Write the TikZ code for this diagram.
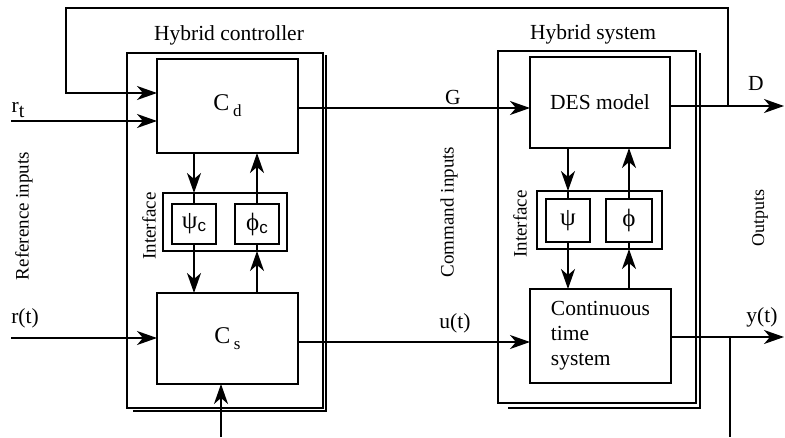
\documentclass[tikz,border=0pt]{standalone}
\usepackage{fontspec}
\setmainfont{Liberation Serif}
\newfontfamily\hcsansfont{Liberation Sans}
\usetikzlibrary{arrows.meta,calc}
\tikzset{
  hc arrow/.style={-{Stealth[length=20pt,width=14pt,inset=6pt]},line width=1.5pt,black},
  hc line/.style={line width=1.5pt,black},
  hc block/.style={draw=black,line width=1.6pt,inner sep=0pt,outer sep=0pt,
    anchor=north west},
  hc frame/.style={hc block},
  hc label/.style={inner sep=0pt,font=\fontsize{21.5}{25}\selectfont},
  hc side label/.style={inner sep=0pt,rotate=90,font=\fontsize{19}{22}\selectfont}
}
\newcommand{\hclow}[2][5pt]{\raisebox{-#1}{\fontsize{17}{17}\selectfont #2}}
\newcommand{\hcgreek}[1]{{\fontsize{25}{25}\selectfont #1}\hclow[3pt]{\hcsansfont c}}
\begin{document}
\begin{tikzpicture}[x=1pt,y=-1pt,font=\fontsize{21.5}{25}\selectfont]
  \useasboundingbox (0,0) rectangle (785,437);

  % Hybrid controller.
  \node[hc frame,minimum width=196pt,minimum height=355pt] (ctrl) at (127,53) {};
  \draw[hc line] ($(ctrl.south west)+(6,3)$) -| ($(ctrl.north east)+(3,2)$);
  \node[hc label] (ctrl title) at (229,35) {Hybrid controller};
  \node[hc block,minimum width=141pt,minimum height=94pt] (cd) at (157,59)
    {{\fontsize{24}{24}\selectfont C}\,\hclow[6pt]{d}};
  \node[hc block,minimum width=141pt,minimum height=91pt] (cs) at (157,293)
    {{\fontsize{24}{24}\selectfont C}\,\hclow[6pt]{s}};
  \node[hc block,minimum width=124pt,minimum height=58pt] (ifc) at (163,193) {};
  \node[hc block,minimum width=44pt,minimum height=40pt] (psic) at (172,204)
    {\hcgreek{ψ}};
  \node[hc block,minimum width=44pt,minimum height=40pt] (phic) at (235,204)
    {\hcgreek{ϕ}};
  \node[hc side label] (ifc label) at (149,226) {Interface};

  % Hybrid system.
  \node[hc frame,minimum width=198pt,minimum height=352pt] (sys) at (498,51) {};
  \draw[hc line] ($(sys.south west)+(10,5)$) -| ($(sys.north east)+(4,2)$);
  \node[hc label] (sys title) at (593,34) {Hybrid system};
  \node[hc block,minimum width=140pt,minimum height=91pt] (des) at (530,57)
    {DES model};
  \node[hc block,minimum width=141pt,minimum height=94pt,align=left] (cts)
    at (530,289) {Continuous\\time\\system};
  \node[hc block,minimum width=44pt,minimum height=43pt] (psi) at (546,199)
    {\fontsize{25}{25}\selectfont ψ};
  \node[hc block,minimum width=46pt,minimum height=43pt] (phi) at (606,199)
    {\fontsize{25}{25}\selectfont ϕ};
  \node[hc block,minimum width=125pt,minimum height=58pt] (ifs) at (537,191) {};
  \node[hc side label] (ifs label) at (520,224) {Interface};

  % Side labels.
  \node[hc side label] (ref label) at (24,216) {Reference inputs};
  \node[hc side label] (cmd label) at (449,212) {Command inputs};
  \node[hc side label,font=\fontsize{18}{22}\selectfont] (out label) at (760,218)
    {Outputs};

  % Signal labels.
  \node[hc label] (rt label) at (18,110) {r\hclow[5pt]{\fontsize{20}{20}\selectfont t}};
  \node[hc label] (r label) at (25,318) {r(t)};
  \node[hc label] (g label) at (453,97) {G};
  \node[hc label] (u label) at (455,323) {u(t)};
  \node[hc label] (d label) at (756,83) {D};
  \node[hc label] (y label) at (762,317) {y(t)};

  % Free ends and taps.
  \coordinate (rt src) at (11,121);
  \coordinate (r src) at (11,338);
  \coordinate (fb in) at (66,93);
  \coordinate (fb top) at (66,8);
  \coordinate (d tap) at (728,106);
  \coordinate (d out) at (784,106);
  \coordinate (y out) at (784,337);
  \coordinate (y tap) at (730,337);
  \coordinate (y bot) at (730,437);
  \coordinate (cs src) at (221,437);
  \coordinate (g line) at (0,108);
  \coordinate (u line) at (0,342);

  % Inputs and outputs.
  \draw[hc arrow] (rt src) -- (rt src -| cd.west);
  \draw[hc arrow] (r src) -- (r src -| cs.west);
  \draw[hc arrow] (d tap) |- (fb top) |- (fb in -| cd.west);
  \draw[hc arrow] (cd.east |- g line) -- (des.west |- g line);
  \draw[hc arrow] (cs.east |- u line) -- (cts.west |- u line);
  \draw[hc arrow] (des.east |- d tap) -- (d out);
  \draw[hc arrow] (cts.east |- y out) -- (y out);
  \draw[hc line] (y tap) -- (y bot);
  \draw[hc arrow] (cs src) -- (cs src |- cs.south);

  % Controller interface.
  \draw[hc arrow] (cd.south -| psic) -- (ifc.north -| psic);
  \draw[hc line] (ifc.north -| psic) -- (psic.north);
  \draw[hc arrow] (phic.north) -- (cd.south -| phic);
  \draw[hc arrow] (psic.south) -- (cs.north -| psic);
  \draw[hc arrow] (cs.north -| phic) -- (ifc.south -| phic);
  \draw[hc line] (ifc.south -| phic) -- (phic.south);

  % System interface.
  \draw[hc arrow] (des.south -| psi) -- (ifs.north -| psi);
  \draw[hc line] (ifs.north -| psi) -- (psi.north);
  \draw[hc arrow] (phi.north) -- (des.south -| phi);
  \draw[hc arrow] (psi.south) -- (cts.north -| psi);
  \draw[hc arrow] (cts.north -| phi) -- (ifs.south -| phi);
  \draw[hc line] (ifs.south -| phi) -- (phi.south);
\end{tikzpicture}
\end{document}
